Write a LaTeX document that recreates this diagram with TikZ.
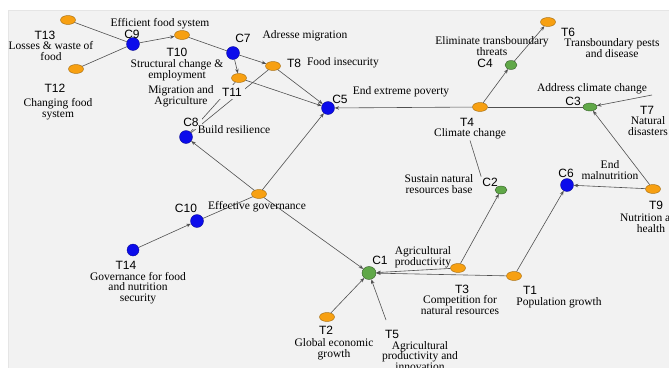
\documentclass[tikz,border=0pt]{standalone}
\usepackage{fontspec}
\setmainfont{Liberation Serif}
\newfontfamily\idfont{Liberation Sans}
\usetikzlibrary{calc, shapes.geometric, arrows.meta}
\definecolor{panel}{RGB}{242,242,242}
\definecolor{cblue}{RGB}{12,12,235}
\definecolor{corange}{RGB}{247,160,18}
\definecolor{cgreen}{RGB}{96,168,72}
\definecolor{edgegray}{RGB}{80,80,80}

\begin{document}
\begin{tikzpicture}[x=1pt, y=-1pt,
    cnode/.style={circle, fill=cblue, draw=cblue!60!black, line width=0.3pt, minimum size=13pt, inner sep=0pt},
    tnode/.style={ellipse, fill=corange, draw=corange!65!black, line width=0.4pt, minimum width=15pt, minimum height=9pt, inner sep=0pt},
    gnode/.style={ellipse, fill=cgreen, draw=cgreen!55!black, line width=0.4pt, minimum width=14pt, minimum height=9pt, inner sep=0pt},
    link/.style={draw=edgegray, line width=0.6pt},
    arr/.style={link, -{Stealth[length=4.5pt, width=3.5pt]}},
    idlab/.style={font=\idfont\fontsize{12}{13}\selectfont, inner sep=1pt},
    txtlab/.style={font=\fontsize{11.5}{10.5}\selectfont, align=center, inner sep=1pt},
    hide/.style={fill=panel, inner sep=3pt}
]

    \useasboundingbox (0,0) rectangle (669,367);
    \fill[white] (0,0) rectangle (669,367);
    \draw[gray!20, fill=panel] (8,10) rectangle (672,370);

    \node[tnode] (t13) at (68,20) {};
    \node[tnode] (t12) at (76,69) {};
    \node[cnode] (c9) at (133,44) {};
    \node[tnode] (t10) at (182,35) {};
    \node[cnode] (c7) at (233,53) {};
    \node[tnode] (t8) at (273,66) {};
    \node[tnode] (t11) at (239,78) {};
    \node[cnode] (c8) at (186,137) {};
    \node[cnode] (c5) at (328,108) {};
    \node[tnode] (gov) at (259,194) {};
    \node[cnode] (c10) at (197,221) {};
    \node[cnode, minimum size=12pt] (t14) at (133,250) {};
    \node[tnode] (t4) at (480,107) {};
    \node[gnode, minimum width=12pt] (c4) at (511,65) {};
    \node[tnode] (t6) at (548,22) {};
    \node[gnode, minimum height=8pt] (c3) at (590,107) {};
    \coordinate (t7) at (652,95);
    \node[tnode] (t9) at (653,189) {};
    \node[cnode] (c6) at (567,185) {};
    \node[gnode, minimum width=12pt, minimum height=8pt] (c2) at (501,190) {};
    \node[tnode] (t3) at (458,268) {};
    \node[tnode] (t1) at (514,276) {};
    \node[gnode, minimum width=14pt, minimum height=13pt] (c1) at (369,273) {};
    \node[tnode] (t2) at (327,317) {};
    \coordinate (t5) at (386,320);

    \draw[link] (t13) -- (c9);
    \draw[link] (t12) -- (c9);
    \draw[arr] (c9) -- (t10);
    \draw[link] (t10) -- (c7);
    \draw[arr] (c7) -- (t8);
    \draw[arr] (c7) -- (t11);
    \draw[arr] (t8) -- (c5);
    \draw[arr] (t11) -- (c5);
    \draw[link] (t8) -- (c8);
    \draw[link] (t11) -- (c8);

    \draw[arr] (gov) -- (c8);
    \draw[arr] (gov) -- (c5);
    \draw[arr] (gov) -- (c1);
    \draw[link] (gov) -- (c10);
    \draw[arr] (t14) -- (c10);

    \draw[arr] (t4) -- (c5);
    \draw[arr] (t4) -- (c4);
    \draw[arr] (c4) -- (t6);
    \draw[link] (t4) -- (c3);
    \draw[arr] (t7) -- (c3);
    \draw[arr] (t9) -- (c3);
    \draw[arr] (t9) -- (c6);
    \draw[arr] (t1) -- (c6);
    \draw[arr] (t1) -- (c1);
    \draw[arr] (t3) -- (c1);
    \draw[arr] (t3) -- (c2);
    \draw[arr] (t2) -- (c1);
    \draw[arr] (t5) -- (c1);

    \node[idlab] (t13id) at (45,35) {T13};
    \node[txtlab] (t13txt) at (51,51) {Losses \& waste of\\food};
    \node[idlab] (t12id) at (55,88) {T12};
    \node[txtlab] (t12txt) at (58,109) {Changing food\\system};
    \node[idlab] (c9id) at (132,34) {C9};
    \node[txtlab] (c9txt) at (160,24) {Efficient food system};
    \node[idlab] (t10id) at (177,52) {T10};
    \node[txtlab] (t10txt) at (177,70) {Structural change \&\\employment};
    \node[idlab] (c7id) at (243,38) {C7};
    \node[txtlab] (c7txt) at (305,36) {Adresse migration};
    \node[idlab] (t8id) at (294,63) {T8};
    \node[txtlab] (t8txt) at (343,63) {Food insecurity};
    \node[txtlab] (t11txt) at (181,96) {Migration and\\Agriculture};
    \node[idlab, hide] (t11id) at (232,92) {T11};
    \node[idlab, hide] (c8id) at (191,122) {C8};
    \node[txtlab, hide, inner sep=1pt] (c8txt) at (234,130) {Build resilience};
    \node[idlab] (c5id) at (340,99) {C5};
    \node[txtlab] (c5txt) at (401,92) {End extreme poverty};
    \node[idlab] (t4id) at (467,122) {T4};
    \node[txtlab] (t4txt) at (470,134) {Climate change};
    \node[idlab] (c4id) at (485,63) {C4};
    \node[txtlab] (c4txt) at (492,46) {Eliminate transboundary\\threats};
    \node[idlab] (t6id) at (568,32) {T6};
    \node[txtlab] (t6txt) at (612,48) {Transboundary pests\\and disease};
    \node[idlab] (c3id) at (573,101) {C3};
    \node[txtlab] (c3txt) at (592,89) {Address climate change};
    \node[idlab] (t7id) at (647,110) {T7};
    \node[txtlab] (t7txt) at (648,126) {Natural\\disasters};
    \node[idlab] (t9id) at (656,205) {T9};
    \node[txtlab] (t9txt) at (651,223) {Nutrition and\\health};
    \node[idlab] (c6id) at (566,173) {C6};
    \node[txtlab] (c6txt) at (610,170) {End\\malnutrition};
    \node[idlab] (c2id) at (490,182) {C2};
    \node[txtlab] (c2txt) at (439,184) {Sustain natural\\resources base};
    \node[idlab] (t3id) at (462,289) {T3};
    \node[txtlab] (t3txt) at (460,305) {Competition for\\natural resources};
    \node[idlab] (t1id) at (530,290) {T1};
    \node[txtlab] (t1txt) at (559,303) {Population growth};
    \node[idlab] (c1id) at (380,260) {C1};
    \node[txtlab] (c1txt) at (423,257) {Agricultural\\productivity};
    \node[idlab] (t2id) at (326,330) {T2};
    \node[txtlab] (t2txt) at (334,349) {Global economic\\growth};
    \node[idlab] (t5id) at (392,334) {T5};
    \node[txtlab] (t5txt) at (420,356) {Agricultural\\productivity and\\innovation};
    \node[txtlab] (govtxt) at (257,207) {Effective governance};
    \node[idlab] (c10id) at (186,208) {C10};
    \node[idlab] (t14id) at (126,265) {T14};
    \node[txtlab] (t14txt) at (138,288) {Governance for food\\and nutrition\\security};

    \draw[link] (t4txt.south) -- (c2id.north west);

\end{tikzpicture}
\end{document}
